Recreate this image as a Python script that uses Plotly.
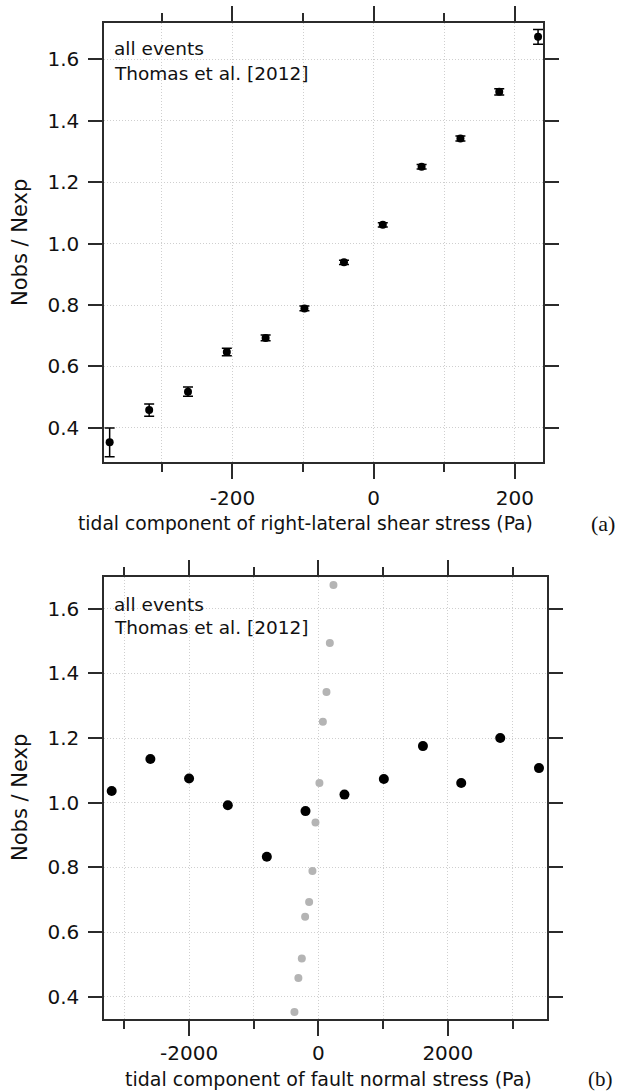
import plotly.graph_objects as go

# ---- data ----
shear_x = [-374, -318, -263, -208, -153, -98, -42, 13, 68, 123, 178, 233]
ratio_y = [0.353, 0.458, 0.518, 0.647, 0.693, 0.789, 0.939, 1.061, 1.250, 1.342, 1.494, 1.673]
ratio_err = [0.047, 0.020, 0.015, 0.012, 0.009, 0.008, 0.007, 0.007, 0.007, 0.008, 0.010, 0.024]

normal_x = [-3196, -2598, -2000, -1401, -798, -200, 402, 1011, 1615, 2207, 2810, 3409]
normal_y = [1.036, 1.135, 1.075, 0.992, 0.833, 0.974, 1.025, 1.073, 1.175, 1.061, 1.200, 1.107]

# gray points in (b): the shear-stress bins drawn on the normal-stress axis
gray_x = [-371, -310, -257, -206, -144, -93, -46, 15, 68, 124, 176, 232]
gray_y = ratio_y

y_ticks = [0.4, 0.6, 0.8, 1.0, 1.2, 1.4, 1.6]
y_ticktext = ["0.4", "0.6", "0.8", "1.0", "1.2", "1.4", "1.6"]
xa_major = [-200, 0, 200]
xa_major_text = ["-200", "0", "200"]
xa_minor = [-300, -100, 100]
xb_major = [-2000, 0, 2000]
xb_major_text = ["-2000", "0", "2000"]
xb_minor = [-3000, -1000, 1000, 3000]

W, H = 619, 1092
def px(x):
    return x / W
def py(y):
    return 1 - y / H

FONT = "DejaVu Sans"
LINE = "#2b2b2b"
GRID = "#cfcfcf"
GDASH = "1px,2px"

fig = go.Figure()

fig.add_trace(go.Scatter(
    x=shear_x, y=ratio_y, mode="markers",
    marker=dict(color="black", size=8),
    error_y=dict(type="data", array=ratio_err, color="black", thickness=1.5, width=5),
    xaxis="x", yaxis="y", showlegend=False))

fig.add_trace(go.Scatter(
    x=gray_x, y=gray_y, mode="markers",
    marker=dict(color="#b4b4b4", size=8),
    xaxis="x2", yaxis="y2", showlegend=False))

fig.add_trace(go.Scatter(
    x=normal_x, y=normal_y, mode="markers",
    marker=dict(color="black", size=10),
    xaxis="x2", yaxis="y2", showlegend=False))

def xaxis(domain, rng, major, majortext, minor, anchor, fs, standoff):
    return dict(
        domain=domain, range=rng, anchor=anchor,
        tickmode="array", tickvals=major, ticktext=majortext,
        ticks="outside", ticklen=15, tickwidth=1.5, tickcolor=LINE,
        showline=True, linecolor=LINE, linewidth=1.5, mirror="allticks",
        showgrid=True, gridcolor=GRID, griddash=GDASH, gridwidth=1,
        zeroline=False, ticklabelstandoff=standoff,
        tickfont=dict(family=FONT, size=fs, color="#111"),
        minor=dict(tickmode="array", tickvals=minor, ticks="outside", ticklen=8,
                   tickwidth=1.5, tickcolor=LINE, showgrid=True,
                   gridcolor=GRID, griddash=GDASH, gridwidth=1),
    )

def yaxis(domain, rng, anchor, fs):
    return dict(
        domain=domain, range=rng, anchor=anchor,
        tickmode="array", tickvals=y_ticks, ticktext=y_ticktext,
        ticks="outside", ticklen=14, tickwidth=1.5, tickcolor=LINE,
        showline=True, linecolor=LINE, linewidth=1.5, mirror="allticks",
        showgrid=True, gridcolor=GRID, griddash=GDASH, gridwidth=1,
        zeroline=False, ticklabelstandoff=5,
        tickfont=dict(family=FONT, size=fs, color="#111"),
    )

fig.update_layout(
    width=W, height=H,
    margin=dict(l=0, r=0, t=0, b=0),
    paper_bgcolor="white", plot_bgcolor="white",
    xaxis=xaxis([px(104), px(543)], [-382, 240], xa_major, xa_major_text, xa_minor, "y", 20, 2),
    yaxis=yaxis([py(462), py(23)], [0.289, 1.718], "x", 20),
    xaxis2=xaxis([px(104), px(547)], [-3315, 3533], xb_major, xb_major_text, xb_minor, "y2", 20, 0),
    yaxis2=yaxis([py(1019), py(577)], [0.331, 1.698], "x2", 20),
)

ann = []
def text(x, y, s, size=18, family=FONT, xanchor="left", angle=0):
    ann.append(dict(x=px(x), y=py(y), xref="paper", yref="paper", text=s,
                    showarrow=False, xanchor=xanchor, yanchor="middle",
                    textangle=angle, borderpad=0,
                    font=dict(family=family, size=size, color="#111")))

# panel (a)
text(113, 49, "all events", size=18.5)
text(113, 74, "Thomas et al. [2012]", size=18.5)
text(305, 523, "tidal component of right-lateral shear stress (Pa)", size=18.7, xanchor="center")
text(603, 523, "(a)", size=22, family="Liberation Serif", xanchor="center")
text(20, 243, "Nobs / Nexp", size=21, xanchor="center", angle=-90)
# panel (b)
text(113, 604, "all events", size=18.5)
text(113, 627, "Thomas et al. [2012]", size=18.5)
text(328, 1079, "tidal component of fault normal stress (Pa)", size=19, xanchor="center")
text(600, 1079, "(b)", size=21, family="Liberation Serif", xanchor="center")
text(20, 798, "Nobs / Nexp", size=21, xanchor="center", angle=-90)

fig.update_layout(annotations=ann)

fig.write_html("out.html")
